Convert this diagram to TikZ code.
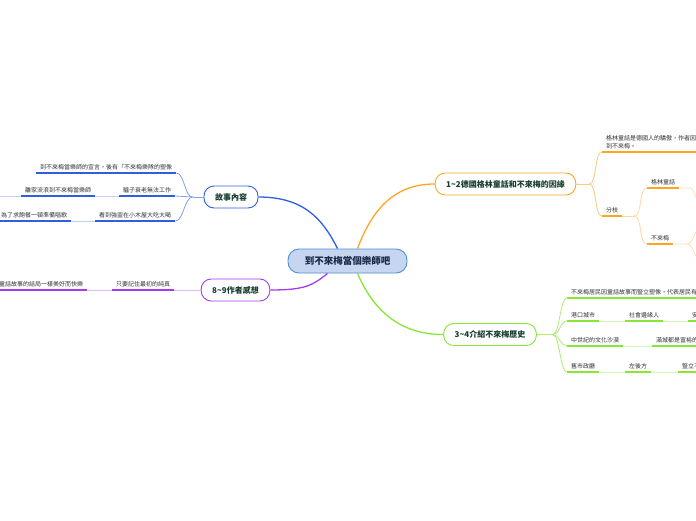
\documentclass[tikz,border=0pt]{standalone}
\usepackage{fontspec}
\setmainfont{Noto Sans CJK TC}
\usetikzlibrary{positioning}
\definecolor{myblue}{HTML}{2F5FE0}
\definecolor{myorange}{HTML}{FFA424}
\definecolor{mypurple}{HTML}{A63AF0}
\definecolor{mygreen}{HTML}{88E634}
\definecolor{mycentre}{HTML}{C6D6F0}
\definecolor{mycentreline}{HTML}{4A8FD8}
\definecolor{mynavy}{HTML}{1B2A48}
\definecolor{mydark}{HTML}{173D2E}

\begin{document}
\begin{tikzpicture}[x=1pt, y=-1pt,
  topic/.style={draw=mycentreline, fill=mycentre, rounded corners=11pt,
    minimum width=119pt, minimum height=24pt, line width=0.9pt,
    text=mynavy, font=\bfseries\fontsize{9.5}{11}\selectfont},
  branch/.style={draw, fill=white, rounded corners=10pt, minimum height=22pt,
    inner xsep=11pt, line width=0.9pt, text=mydark,
    font=\bfseries\fontsize{8}{9}\selectfont},
  leaf/.style={anchor=south west, inner xsep=4pt, inner ysep=2.5pt,
    text=black!80, align=left, font=\fontsize{6}{8}\selectfont},
  uline/.style={line width=1.6pt},
  link/.style={line width=0.8pt},
  edge/.style={line width=1.3pt}
]
\useasboundingbox (0,0) rectangle (696,520);
\clip (0,0) rectangle (696,520);

% main topics
\node[topic] (centre) at (347.5,261) {到不來梅當個樂師吧};
\node[branch, draw=myblue] (stories) at (231,197) {故事內容};
\node[branch, draw=myorange] (grimm) at (505.5,184) {1\textasciitilde 2德國格林童話和不來梅的因緣};
\node[branch, draw=mypurple] (thoughts) at (235.5,290) {8\textasciitilde 9作者感想};
\node[branch, draw=mygreen] (history) at (490,334.5) {3\textasciitilde 4介紹不來梅歷史};

\draw[edge, myblue] ([xshift=-10pt]centre.north) .. controls +(-15,-30) and +(45,0) .. (stories.east);
\draw[edge, myorange] ([xshift=10pt]centre.north) .. controls +(15,-40) and +(-40,0) .. (grimm.west);
\draw[edge, mypurple] ([xshift=-20pt]centre.south) .. controls +(-15,12) and +(35,0) .. (thoughts.east);
\draw[edge, mygreen] ([xshift=10pt]centre.south) .. controls +(15,35) and +(-45,0) .. (history.west);

% story
\node[leaf] (s1) at (36,173) {到不來梅當樂師的宣言，後有「不來梅樂隊的塑像};
\node[leaf] (s2) at (119,196) {驢子衰老無法工作};
\node[leaf] (s2b) at (21,196) {離家流浪到不來梅當樂師};
\node[leaf] (s3) at (95,221) {看到強盜在小木屋大吃大喝};
\node[leaf] (s3b) at (-3,221) {為了求飽餐一頓準備唱歌};
\coordinate (bsplit) at ([xshift=-11pt]stories.west);
\coordinate (s2end) at (-10,196);
\coordinate (s3end) at (-10,221);
\foreach \n in {s1,s2,s2b,s3,s3b}
  \draw[uline, myblue] (\n.south west) -- (\n.south east);
\draw[link, myblue!60] (stories.west) -- (bsplit);
\foreach \n in {s1,s2,s3}
  \draw[link, myblue!60] (bsplit) .. controls +(-8,0) and +(8,0) .. (\n.south east);
\draw[link, myblue!30] (s2b.south east) -- (s2.south west);
\draw[link, myblue!30] (s2end) -- (s2b.south west);
\draw[link, myblue!30] (s3b.south east) -- (s3.south west);
\draw[link, myblue!30] (s3end) -- (s3b.south west);

% thoughts
\node[leaf] (p1) at (112,290) {只要記住最初的純真};
\node[leaf] (p1b) at (-5,290) {童話故事的結局一樣美好而快樂};
\foreach \n in {p1,p1b}
  \draw[uline, mypurple] (\n.south west) -- (\n.south east);
\draw[link, mypurple!35] (thoughts.west) -- (p1.south east);
\draw[link, mypurple!35] (p1b.south east) -- (p1.south west);

% grimm
\node[leaf] (o1) at (602,152) {格林童話是德國人的驕傲，作者因\\到不來梅。};
\node[leaf] (o2) at (602,216) {分枝};
\node[leaf] (o3) at (647,188) {格林童話};
\node[leaf] (o4) at (647,244) {不來梅};
\coordinate (osplit) at ([xshift=13pt]grimm.east);
\coordinate (osplit2) at (634,216);
\coordinate (o3end) at (690,188);
\coordinate (o3far) at (702,206);
\coordinate (o4end) at (687,244);
\coordinate (o4up) at (702,226);
\coordinate (o4down) at (702,262);
\foreach \n in {o1,o2,o3,o4}
  \draw[uline, myorange] (\n.south west) -- (\n.south east);
\draw[link, myorange!60] (grimm.east) -- (osplit);
\foreach \n in {o1,o2}
  \draw[link, myorange!60] (osplit) .. controls +(8,0) and +(-8,0) .. (\n.south west);
\draw[link, myorange!45] (o2.south east) -- (osplit2);
\foreach \n in {o3,o4}
  \draw[link, myorange!45] (osplit2) .. controls +(9,0) and +(-9,0) .. (\n.south west);
\draw[link, myorange!35] (o3.south east) -- (o3end) .. controls +(5,0) and +(-5,0) .. (o3far);
\draw[link, myorange!35] (o4.south east) -- (o4end) .. controls +(7,0) and +(-7,0) .. (o4up);
\draw[link, myorange!35] (o4end) .. controls +(7,0) and +(-7,0) .. (o4down);

% history
\node[leaf] (g1) at (567,298) {不來梅居民因童話故事而豎立塑像，代表居民有多麼喜愛};
\node[leaf] (g2) at (567,321) {港口城市};
\node[leaf] (g2b) at (625,321) {社會邊緣人};
\node[leaf] (g2c) at (688,321) {安身之處};
\node[leaf] (g3) at (567,346) {中世紀的文化沙漠};
\node[leaf] (g3b) at (652,346) {滿城都是富裕的商人};
\node[leaf] (g4) at (567,372) {舊市政廳};
\node[leaf] (g4b) at (625,372) {左後方};
\node[leaf] (g4c) at (678,372) {豎立不來梅樂隊};
\coordinate (gsplit) at ([xshift=16pt]history.east);
\foreach \n in {g1,g2,g2b,g2c,g3,g3b,g4,g4b,g4c}
  \draw[uline, mygreen] (\n.south west) -- (\n.south east);
\draw[link, mygreen!70] (history.east) -- (gsplit);
\foreach \n in {g1,g2,g3,g4}
  \draw[link, mygreen!70] (gsplit) .. controls +(7,0) and +(-7,0) .. (\n.south west);
\draw[link, mygreen!35] (g2.south east) -- (g2b.south west);
\draw[link, mygreen!35] (g2b.south east) -- (g2c.south west);
\draw[link, mygreen!35] (g3.south east) -- (g3b.south west);
\draw[link, mygreen!35] (g4.south east) -- (g4b.south west);
\draw[link, mygreen!35] (g4b.south east) -- (g4c.south west);
\end{tikzpicture}
\end{document}
